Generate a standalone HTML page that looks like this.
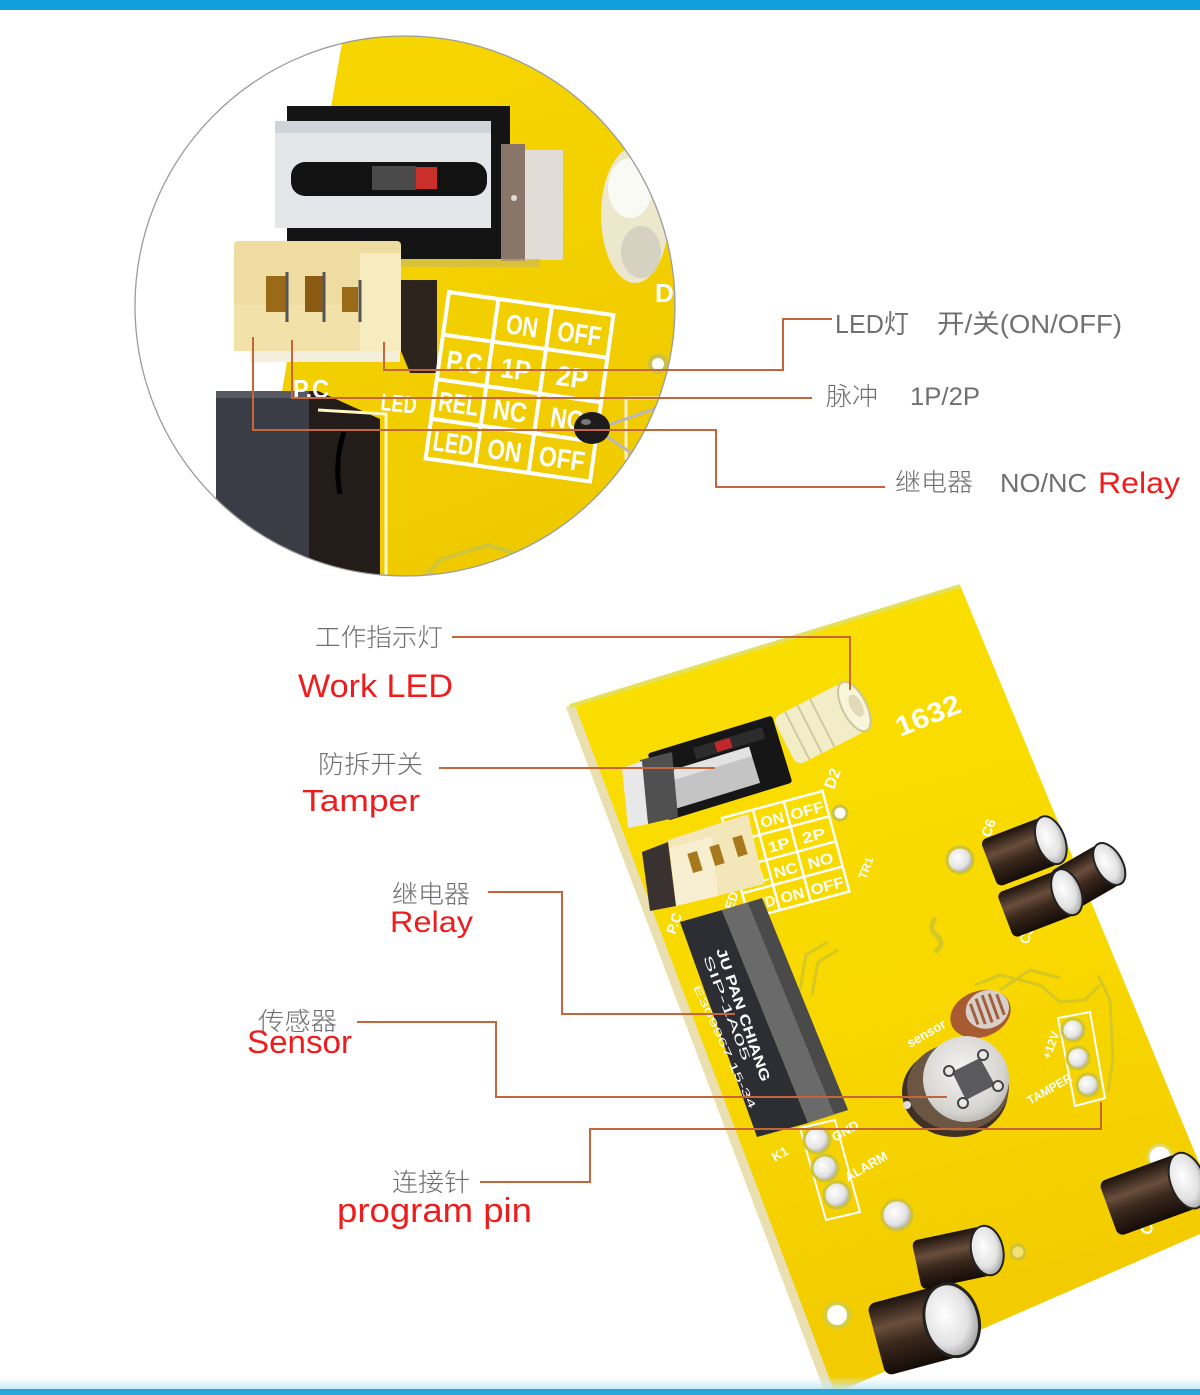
<!DOCTYPE html>
<html><head><meta charset="utf-8"><style>
html,body{margin:0;padding:0;background:#fff;}
svg{display:block;}
.cn{font-family:"Liberation Sans","Noto Sans CJK SC",sans-serif;font-weight:300;fill:#6e6e6e;}
.gl{font-family:"Liberation Sans","Noto Sans CJK SC",sans-serif;fill:#707070;}
.red{font-family:"Liberation Sans","Noto Sans CJK SC",sans-serif;fill:#ee1c1c;}
.silk{font-family:"Liberation Sans",sans-serif;font-weight:bold;fill:#fff;}
</style></head><body>
<svg width="1200" height="1395" viewBox="0 0 1200 1395" xmlns="http://www.w3.org/2000/svg">
<defs>
 <clipPath id="circ"><circle cx="405" cy="306" r="270"/></clipPath>
 <linearGradient id="y1" x1="0" y1="0" x2="0.3" y2="1"><stop offset="0" stop-color="#f7d700"/><stop offset="1" stop-color="#efca00"/></linearGradient>
 <linearGradient id="y2" x1="0" y1="0" x2="0.2" y2="1"><stop offset="0" stop-color="#fbe000"/><stop offset="0.6" stop-color="#f8d800"/><stop offset="1" stop-color="#f2cb00"/></linearGradient>
 <linearGradient id="cap" x1="0" y1="0" x2="0" y2="1"><stop offset="0" stop-color="#1c120c"/><stop offset="0.35" stop-color="#6a4e3c"/><stop offset="0.6" stop-color="#3a281c"/><stop offset="1" stop-color="#140c08"/></linearGradient>
 <radialGradient id="silv" cx="0.4" cy="0.4" r="0.7"><stop offset="0" stop-color="#ffffff"/><stop offset="0.6" stop-color="#e2e2e2"/><stop offset="1" stop-color="#8e8e8e"/></radialGradient>
 <radialGradient id="silv2" cx="0.45" cy="0.4" r="0.7"><stop offset="0" stop-color="#f4f4f4"/><stop offset="0.7" stop-color="#d6d4d0"/><stop offset="1" stop-color="#a8a6a0"/></radialGradient>
 <linearGradient id="haze" x1="0" y1="0" x2="0" y2="1"><stop offset="0" stop-color="#d8f0fa" stop-opacity="0"/><stop offset="1" stop-color="#bfe6f6" stop-opacity="0.95"/></linearGradient>
</defs>
<rect width="1200" height="1395" fill="#fff"/>

<!-- ============ CIRCLE DETAIL ============ -->
<g clip-path="url(#circ)">
 <polygon points="346,20 246,600 700,600 700,20" fill="url(#y1)"/>
 <g fill="none" stroke="#cfc43a" stroke-width="4">
  <polyline points="410,592 440,560 488,545 525,556"/>
  <polyline points="432,598 456,574 496,564 532,578"/>
 </g>
 <ellipse cx="635" cy="215" rx="34" ry="68" fill="#ece9dd" opacity="0.92"/>
 <ellipse cx="630" cy="188" rx="22" ry="30" fill="#fafaf5"/>
 <ellipse cx="641" cy="252" rx="20" ry="26" fill="#d6d2c2"/>
 <text x="655" y="302" class="silk" font-size="26">D</text>
 <circle cx="658" cy="364" r="8" fill="#fff" stroke="#c9c24a" stroke-width="4"/>
 <rect x="287" y="106" width="223" height="153" fill="#141414"/>
 <rect x="275" y="121" width="216" height="107" fill="#e4e6ea"/>
 <rect x="275" y="121" width="216" height="12" fill="#cfd3da"/>
 <rect x="291" y="162" width="196" height="34" rx="14" fill="#121212"/>
 <rect x="372" y="166" width="44" height="24" fill="#4a4a4a"/>
 <rect x="416" y="167" width="21" height="22" fill="#c9302c"/>
 <rect x="501" y="144" width="24" height="117" fill="#8a7668"/>
 <rect x="525" y="150" width="38" height="110" fill="#e2dcd6"/>
 <circle cx="514" cy="198" r="3" fill="#ddd"/>
 <rect x="300" y="259" width="240" height="8" fill="#c9b860" opacity="0.6"/>
 <rect x="250" y="348" width="150" height="14" fill="#f4eedc"/>
 <rect x="234" y="241" width="167" height="110" rx="4" fill="#efdca0"/>
 <rect x="234" y="305" width="167" height="46" fill="#f2e2aa"/>
 <rect x="266" y="276" width="21" height="36" fill="#9a6a18"/>
 <rect x="305" y="276" width="18" height="36" fill="#8a5a12"/>
 <rect x="342" y="287" width="16" height="25" fill="#9a6a18"/>
 <rect x="360" y="253" width="41" height="98" fill="#f7ecc0"/>
 <g stroke="#555" stroke-width="3"><line x1="287" y1="272" x2="287" y2="322"/><line x1="324" y1="272" x2="324" y2="322"/><line x1="360" y1="280" x2="360" y2="322"/></g>
 <polygon points="401,280 437,280 437,373 410,373 401,351" fill="#2e241e"/>
 <polygon points="216,391 309,391 309,600 216,600" fill="#3a3d46"/>
 <polygon points="216,391 309,391 309,398 216,398" fill="#575a62"/>
 <polygon points="309,391 318,391 380,419 380,600 309,600" fill="#241c18"/>
 <path d="M344,432 q-10,30 -4,62" stroke="#000" stroke-width="5" fill="none"/>
 <polyline points="318,410 386,414 386,592" fill="none" stroke="#fff6c0" stroke-width="3"/>
 <g transform="translate(449,292) rotate(8)">
  <g fill="none" stroke="#fff" stroke-width="4">
   <rect x="0" y="0" width="166" height="168"/>
   <line x1="50" y1="0" x2="50" y2="168"/><line x1="104" y1="0" x2="104" y2="168"/>
   <line x1="0" y1="43" x2="166" y2="43"/><line x1="0" y1="88" x2="166" y2="88"/><line x1="0" y1="128" x2="166" y2="128"/>
  </g>
  <g class="silk" font-size="28" font-weight="normal">
   <text x="61" y="33" textLength="32" lengthAdjust="spacingAndGlyphs">ON</text>
   <text x="113" y="33" textLength="44" lengthAdjust="spacingAndGlyphs">OFF</text>
   <text x="7" y="77" textLength="36" lengthAdjust="spacingAndGlyphs">P.C</text>
   <text x="62" y="77" textLength="30" lengthAdjust="spacingAndGlyphs">1P</text>
   <text x="118" y="77" textLength="32" lengthAdjust="spacingAndGlyphs">2P</text>
   <text x="5" y="119" textLength="40" lengthAdjust="spacingAndGlyphs">REL</text>
   <text x="60" y="119" textLength="34" lengthAdjust="spacingAndGlyphs">NC</text>
   <text x="118" y="119" textLength="34" lengthAdjust="spacingAndGlyphs">NO</text>
   <text x="5" y="159" textLength="40" lengthAdjust="spacingAndGlyphs">LED</text>
   <text x="60" y="159" textLength="34" lengthAdjust="spacingAndGlyphs">ON</text>
   <text x="112" y="159" textLength="46" lengthAdjust="spacingAndGlyphs">OFF</text>
  </g>
 </g>
 <text x="293" y="398" class="silk" font-size="26" font-weight="normal" textLength="36" lengthAdjust="spacingAndGlyphs">P.C</text>
 <text x="380" y="410" class="silk" font-size="24" font-weight="normal" textLength="36" lengthAdjust="spacingAndGlyphs" transform="rotate(6 380 410)">LED</text>
 <rect x="626" y="398" width="33" height="60" fill="none" stroke="#f4efcf" stroke-width="3"/>
 <line x1="600" y1="428" x2="680" y2="400" stroke="#b8b8b8" stroke-width="3"/>
 <line x1="600" y1="432" x2="645" y2="462" stroke="#b8b8b8" stroke-width="3"/>
 <ellipse cx="592" cy="428" rx="18" ry="16" fill="#1c1a1a"/>
 <ellipse cx="586" cy="422" rx="5" ry="3" fill="#777"/>
</g>
<circle cx="405" cy="306" r="270" fill="none" stroke="#9c9c9c" stroke-width="1.3"/>

<!-- ============ LOWER BOARD ============ -->
<polygon points="566,707 960,585 1200,1165 1200,1234 838,1392 826,1395" fill="url(#y2)"/>
<polygon points="566,707 575,705 835,1393 826,1395" fill="#e9dfb0"/>
<line x1="570" y1="706" x2="960" y2="586" stroke="#e4e05a" stroke-width="4"/>
<g fill="none" stroke="#d2c62a" stroke-width="3" opacity="0.9">
 <polyline points="800,990 806,955 828,942"/>
 <polyline points="812,995 818,962 838,950"/>
 <path d="M936,918 q-9,10 1,18 q9,8 -2,16" stroke-width="5"/>
 <polyline points="975,985 1000,975 1040,985 1060,1002 1085,1000 1100,985"/>
 <polyline points="1098,975 1110,1000 1113,1060 1108,1092"/>
 <polyline points="1000,990 1030,970 1060,978"/>
</g>
<text x="900" y="737" class="silk" font-size="28" font-weight="normal" textLength="68" lengthAdjust="spacingAndGlyphs" transform="rotate(-22 900 737)">1632</text>
<text x="834" y="790" class="silk" font-size="16" font-weight="normal" transform="rotate(-70 834 790)">D2</text>
<text x="866" y="880" class="silk" font-size="12" font-weight="normal" transform="rotate(-70 866 880)">TR1</text>
<text x="990" y="838" class="silk" font-size="14" font-weight="normal" transform="rotate(-70 990 838)">C6</text>
<text x="1028" y="945" class="silk" font-size="14" font-weight="normal" transform="rotate(-70 1028 945)">C3</text>
<text x="1150" y="1236" class="silk" font-size="16" transform="rotate(-70 1150 1236)">C5</text>
<text x="910" y="1048" class="silk" font-size="13" font-weight="normal" transform="rotate(-30 910 1048)">sensor</text>
<text x="1050" y="1060" class="silk" font-size="12" transform="rotate(-70 1050 1060)">+12V</text>
<text x="1030" y="1105" class="silk" font-size="12" transform="rotate(-30 1030 1105)">TAMPER</text>
<text x="835" y="1142" class="silk" font-size="13" transform="rotate(-30 835 1142)">GND</text>
<text x="848" y="1182" class="silk" font-size="13" transform="rotate(-30 848 1182)">ALARM</text>
<text x="775" y="1162" class="silk" font-size="13" font-weight="normal" transform="rotate(-30 775 1162)">K1</text>
<text x="675" y="935" class="silk" font-size="14" font-weight="normal" transform="rotate(-70 675 935)">P.C</text>
<text x="730" y="918" class="silk" font-size="13" font-weight="normal" transform="rotate(-70 730 918)">LED</text>
<g transform="translate(722,818) rotate(-15)">
 <g fill="none" stroke="#fff" stroke-width="2.5">
  <rect x="0" y="0" width="104" height="104"/>
  <line x1="32" y1="0" x2="32" y2="104"/><line x1="64" y1="0" x2="64" y2="104"/>
  <line x1="0" y1="26" x2="104" y2="26"/><line x1="0" y1="52" x2="104" y2="52"/><line x1="0" y1="78" x2="104" y2="78"/>
 </g>
 <g class="silk" font-size="15" font-weight="normal">
  <text x="36" y="20" textLength="24" lengthAdjust="spacingAndGlyphs">ON</text>
  <text x="67" y="20" textLength="34" lengthAdjust="spacingAndGlyphs">OFF</text>
  <text x="37" y="46" textLength="22" lengthAdjust="spacingAndGlyphs">1P</text>
  <text x="72" y="46" textLength="24" lengthAdjust="spacingAndGlyphs">2P</text>
  <text x="2" y="72" textLength="28" lengthAdjust="spacingAndGlyphs">REL</text>
  <text x="36" y="72" textLength="24" lengthAdjust="spacingAndGlyphs">NC</text>
  <text x="71" y="72" textLength="26" lengthAdjust="spacingAndGlyphs">NO</text>
  <text x="2" y="98" textLength="28" lengthAdjust="spacingAndGlyphs">LED</text>
  <text x="36" y="98" textLength="24" lengthAdjust="spacingAndGlyphs">ON</text>
  <text x="67" y="98" textLength="34" lengthAdjust="spacingAndGlyphs">OFF</text>
 </g>
</g>
<circle cx="840" cy="813" r="7" fill="#fff" stroke="#c9c24a" stroke-width="3"/>
<circle cx="1160" cy="1157" r="12" fill="#fff" stroke="#e2d860" stroke-width="3"/>
<circle cx="837" cy="1315" r="12" fill="#fff" stroke="#d6cc40" stroke-width="4"/>
<circle cx="1018" cy="1252" r="7" fill="#f4e070" stroke="#cfc436" stroke-width="3"/>
<circle cx="960" cy="860" r="13" fill="url(#silv)" stroke="#cfc436" stroke-width="3"/>
<circle cx="897" cy="1215" r="15" fill="url(#silv)" stroke="#cfc436" stroke-width="3"/>
<g transform="translate(824,722) rotate(-27)" opacity="0.9">
 <rect x="-44" y="-27" width="78" height="54" rx="8" fill="#f2efdc"/>
 <g stroke="#cdc9b0" stroke-width="2"><line x1="-30" y1="-27" x2="-30" y2="27"/><line x1="-16" y1="-27" x2="-16" y2="27"/><line x1="-2" y1="-27" x2="-2" y2="27"/></g>
 <ellipse cx="34" cy="0" rx="12" ry="27" fill="#f8f8f0" stroke="#c8c4b0" stroke-width="2"/>
 <ellipse cx="36" cy="0" rx="6" ry="12" fill="#dedacc"/>
</g>
<g transform="rotate(-17 720 768)">
 <rect x="655" y="733" width="130" height="70" rx="3" fill="#161616"/>
 <rect x="662" y="756" width="92" height="38" fill="#c4c4c4"/>
 <rect x="662" y="756" width="92" height="10" fill="#e2e2e2"/>
 <rect x="700" y="741" width="72" height="12" fill="#2c2c2c"/>
 <rect x="722" y="742" width="16" height="10" fill="#c0282a"/>
</g>
<polygon points="640,760 672,752 678,817 648,824" fill="#505050"/>
<polygon points="622,768 642,761 648,824 628,828" fill="#e8e8e8"/>
<polygon points="668,840 748,814 764,884 676,906" fill="#f3e6b8"/>
<polygon points="670,848 712,836 718,896 676,906" fill="#f8eed0"/>
<rect x="690" y="852" width="10" height="20" fill="#a8781c" transform="rotate(-17 695 862)"/>
<rect x="712" y="845" width="10" height="20" fill="#a8781c" transform="rotate(-17 717 855)"/>
<rect x="735" y="836" width="10" height="20" fill="#a8781c" transform="rotate(-17 740 846)"/>
<polygon points="642,852 668,842 676,906 650,911" fill="#3a3230"/>
<polygon points="680,922 722,910 808,1123 757,1137" fill="#2c2e34"/>
<polygon points="722,910 762,898 848,1110 808,1123" fill="#6a6a6a"/>
<polygon points="748,903 762,898 848,1110 834,1114" fill="#4a4a4a"/>
<g class="silk" fill="#d0d0d0">
 <text x="716" y="950" font-size="14" textLength="140" lengthAdjust="spacingAndGlyphs" transform="rotate(71 716 950)">JU PAN CHIANG</text>
 <text x="703" y="957" font-size="12" font-weight="normal" textLength="112" lengthAdjust="spacingAndGlyphs" transform="rotate(69 703 957)">SIP-1A05</text>
 <text x="693" y="987" font-size="10" font-weight="normal" textLength="135" lengthAdjust="spacingAndGlyphs" transform="rotate(65 693 987)">E309967 15-34</text>
</g>
<g transform="rotate(-20 983 1012)">
 <ellipse cx="980" cy="1013" rx="31" ry="23" fill="#a85a30"/>
 <ellipse cx="988" cy="1011" rx="22" ry="19" fill="#d8d0c8"/>
 <path d="M974,1000 v22 M981,997 v27 M988,996 v29 M995,997 v27 M1002,1000 v22" stroke="#a06040" stroke-width="3"/>
</g>
<ellipse cx="955" cy="1092" rx="53" ry="45" fill="#3e3024"/>
<ellipse cx="958" cy="1087" rx="51" ry="44" fill="#6b5644"/>
<circle cx="966" cy="1079" r="43" fill="url(#silv2)"/>
<polygon points="980,1058 995,1085 966,1100 952,1072" fill="#5a5a5e"/>
<g fill="#e8e8e8" stroke="#444" stroke-width="2">
 <circle cx="983" cy="1055" r="5"/><circle cx="998" cy="1086" r="5"/><circle cx="963" cy="1103" r="5"/><circle cx="949" cy="1071" r="5"/>
</g>
<circle cx="907" cy="1105" r="4" fill="#ddd"/>
<polygon points="1058,1018 1090,1012 1105,1098 1075,1106" fill="none" stroke="#fff" stroke-width="2"/>
<g fill="url(#silv)" stroke="#cfc436" stroke-width="3">
 <circle cx="1073" cy="1030" r="11"/><circle cx="1078" cy="1058" r="11"/><circle cx="1088" cy="1085" r="11"/>
</g>
<polygon points="800,1128 835,1120 860,1212 826,1220" fill="none" stroke="#fff" stroke-width="2"/>
<g fill="url(#silv)" stroke="#cfc436" stroke-width="3">
 <circle cx="817" cy="1140" r="13"/><circle cx="825" cy="1168" r="13"/><circle cx="837" cy="1195" r="13"/>
</g>
<g transform="translate(1085,878) rotate(-30)">
 <rect x="-28" y="-23" width="56" height="46" rx="6" fill="url(#cap)"/>
 <ellipse cx="28" cy="0" rx="13" ry="23" fill="url(#silv)" stroke="#222" stroke-width="2"/>
</g>
<g transform="translate(1020,852) rotate(-21)">
 <rect x="-33" y="-25" width="66" height="50" rx="6" fill="url(#cap)"/>
 <ellipse cx="33" cy="0" rx="14" ry="25" fill="url(#silv)" stroke="#222" stroke-width="2"/>
</g>
<g transform="translate(1036,904) rotate(-21)">
 <rect x="-33" y="-24" width="66" height="48" rx="6" fill="url(#cap)"/>
 <ellipse cx="33" cy="0" rx="14" ry="24" fill="url(#silv)" stroke="#222" stroke-width="2"/>
</g>
<g transform="translate(952,1258) rotate(-12)">
 <rect x="-36" y="-25" width="72" height="50" rx="6" fill="url(#cap)"/>
 <ellipse cx="36" cy="0" rx="16" ry="25" fill="url(#silv)" stroke="#222" stroke-width="2"/>
</g>
<g transform="translate(915,1330) rotate(-15)">
 <rect x="-40" y="-37" width="80" height="74" rx="8" fill="url(#cap)"/>
 <ellipse cx="38" cy="0" rx="27" ry="37" fill="url(#silv)" stroke="#222" stroke-width="3"/>
</g>
<g transform="translate(1148,1195) rotate(-20)">
 <rect x="-42" y="-29" width="84" height="58" rx="7" fill="url(#cap)"/>
 <ellipse cx="42" cy="0" rx="17" ry="29" fill="url(#silv)" stroke="#222" stroke-width="2"/>
</g>

<!-- ============ CONNECTOR LINES ============ -->
<g fill="none" stroke="#c4663a" stroke-width="2">
 <polyline points="384,342 384,370 783,370 783,319 832,319"/>
 <polyline points="292,340 292,398 812,398"/>
 <polyline points="253,337 253,430 716,430 716,487 885,487"/>
 <polyline points="452,637 850,637 850,690"/>
 <polyline points="439,768 715,768"/>
 <polyline points="488,892 562,892 562,1014 735,1014"/>
 <polyline points="357,1022 496,1022 496,1097 947,1097"/>
 <polyline points="480,1182 590,1182 590,1129 1101,1129 1101,1102"/>
</g>

<!-- ============ LABELS ============ -->
<text x="835" y="333" class="gl" font-size="26" textLength="74" lengthAdjust="spacingAndGlyphs">LED灯</text>
<text x="937" y="333" class="gl" font-size="26" textLength="185" lengthAdjust="spacingAndGlyphs">开/关(ON/OFF)</text>
<text x="826" y="405" class="cn" font-size="25" textLength="52" lengthAdjust="spacingAndGlyphs">脉冲</text>
<text x="910" y="405" class="gl" font-size="25" textLength="70" lengthAdjust="spacingAndGlyphs">1P/2P</text>
<text x="895" y="491" class="cn" font-size="25" textLength="78" lengthAdjust="spacingAndGlyphs">继电器</text>
<text x="1000" y="492" class="gl" font-size="26" textLength="87" lengthAdjust="spacingAndGlyphs">NO/NC</text>
<text x="1098" y="493" class="red" font-size="30" textLength="82" lengthAdjust="spacingAndGlyphs">Relay</text>

<text x="315" y="646" class="cn" font-size="25" textLength="128" lengthAdjust="spacingAndGlyphs">工作指示灯</text>
<text x="298" y="697" class="red" font-size="32" textLength="155" lengthAdjust="spacingAndGlyphs">Work LED</text>
<text x="318" y="773" class="cn" font-size="25" textLength="105" lengthAdjust="spacingAndGlyphs">防拆开关</text>
<text x="302" y="811" class="red" font-size="31" textLength="118" lengthAdjust="spacingAndGlyphs">Tamper</text>
<text x="392" y="903" class="cn" font-size="25" textLength="78" lengthAdjust="spacingAndGlyphs">继电器</text>
<text x="390" y="932" class="red" font-size="30" textLength="83" lengthAdjust="spacingAndGlyphs">Relay</text>
<text x="258" y="1030" class="cn" font-size="25" textLength="79" lengthAdjust="spacingAndGlyphs">传感器</text>
<text x="247" y="1053" class="red" font-size="32" textLength="105" lengthAdjust="spacingAndGlyphs">Sensor</text>
<text x="392" y="1191" class="cn" font-size="25" textLength="78" lengthAdjust="spacingAndGlyphs">连接针</text>
<text x="337" y="1222" class="red" font-size="34" textLength="195" lengthAdjust="spacingAndGlyphs">program pin</text>

<!-- ============ BARS ============ -->
<rect x="0" y="0" width="1200" height="10" fill="#10a0dc"/>
<rect x="0" y="1376" width="1200" height="14" fill="url(#haze)"/>
<rect x="0" y="1389" width="1200" height="6" fill="#2aa6d8"/>
</svg>
</body></html>
